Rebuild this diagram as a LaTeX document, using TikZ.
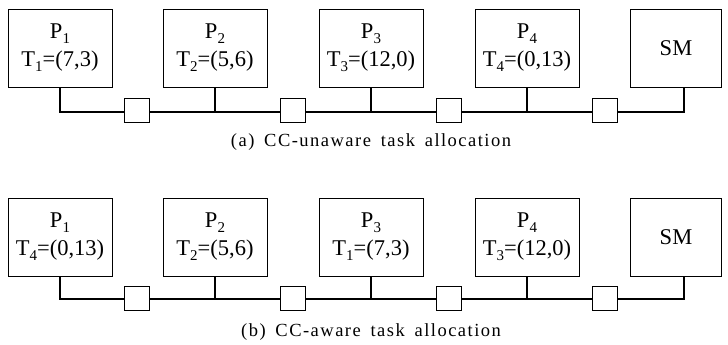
\documentclass[tikz,border=0pt]{standalone}
\usepackage{fontspec}
\setmainfont{Liberation Serif}
\newfontfamily\capfont[LetterSpace=8,WordSpace=1.6]{Liberation Serif}
\newcommand{\low}[1]{\raisebox{-0.45ex}{\fontsize{15}{15}\selectfont #1}}
\begin{document}
\begin{tikzpicture}[x=1pt,y=-1pt,
  box/.style={draw, line width=0.8pt, minimum width=104pt, minimum height=78pt, align=center, font=\fontsize{22.5}{28}\selectfont},
  smbox/.style={box, minimum width=91pt},
  sw/.style={draw, line width=0.6pt, fill=white, minimum width=25pt, minimum height=24pt, inner sep=0pt},
  bus/.style={line width=2.8pt},
  captext/.style={font=\capfont\fontsize{18.5}{18.5}\selectfont}
]
\useasboundingbox (0,0) rectangle (728,345);
% (a) CC-unaware
\node[box] (a1) at (60,48) {P\low{1}\\T\low{1}=(7,3)};
\node[box] (a2) at (215,48) {P\low{2}\\T\low{2}=(5,6)};
\node[box] (a3) at (371,48) {P\low{3}\\T\low{3}=(12,0)};
\node[box] (a4) at (527,48) {P\low{4}\\T\low{4}=(0,13)};
\node[smbox] (asm) at (676,48) {SM};
\coordinate (ab1) at (60,112);
\coordinate (ab5) at (684,112);
\draw[bus] (a1.south) -- (ab1) -- (ab5) -- (ab5 |- asm.south);
\draw[bus] (a2.south) -- (a2.south |- ab1);
\draw[bus] (a3.south) -- (a3.south |- ab1);
\draw[bus] (a4.south) -- (a4.south |- ab1);
\node[sw] (as1) at (137,110) {};
\node[sw] (as2) at (293,110) {};
\node[sw] (as3) at (449,110) {};
\node[sw] (as4) at (605,110) {};
\node[captext] (capa) at (371,142) {(a) CC-unaware task allocation};
% (b) CC-aware
\node[box] (b1) at (60,237) {P\low{1}\\T\low{4}=(0,13)};
\node[box] (b2) at (215,237) {P\low{2}\\T\low{2}=(5,6)};
\node[box] (b3) at (371,237) {P\low{3}\\T\low{1}=(7,3)};
\node[box] (b4) at (527,237) {P\low{4}\\T\low{3}=(12,0)};
\node[smbox] (bsm) at (676,237) {SM};
\coordinate (bb1) at (60,299);
\coordinate (bb5) at (684,299);
\draw[bus] (b1.south) -- (bb1) -- (bb5) -- (bb5 |- bsm.south);
\draw[bus] (b2.south) -- (b2.south |- bb1);
\draw[bus] (b3.south) -- (b3.south |- bb1);
\draw[bus] (b4.south) -- (b4.south |- bb1);
\node[sw] (bs1) at (137,298) {};
\node[sw] (bs2) at (293,298) {};
\node[sw] (bs3) at (449,298) {};
\node[sw] (bs4) at (605,298) {};
\node[captext] (capb) at (371,332) {(b) CC-aware task allocation};
\end{tikzpicture}
\end{document}
